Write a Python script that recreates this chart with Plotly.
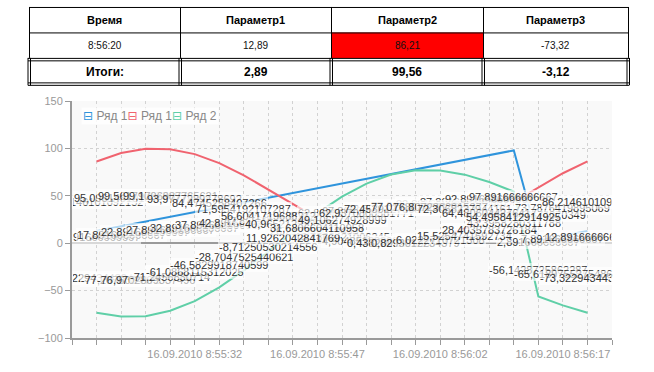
import plotly.graph_objects as go

# ---------------- data ----------------
times = [
    "2010-09-16 08:55:20", "2010-09-16 08:55:23", "2010-09-16 08:55:26",
    "2010-09-16 08:55:29", "2010-09-16 08:55:32", "2010-09-16 08:55:35",
    "2010-09-16 08:55:38", "2010-09-16 08:55:41", "2010-09-16 08:55:44",
    "2010-09-16 08:55:47", "2010-09-16 08:55:50", "2010-09-16 08:55:53",
    "2010-09-16 08:55:56", "2010-09-16 08:55:59", "2010-09-16 08:56:02",
    "2010-09-16 08:56:05", "2010-09-16 08:56:08", "2010-09-16 08:56:11",
    "2010-09-16 08:56:14", "2010-09-16 08:56:17", "2010-09-16 08:56:20",
]

param1 = [12.891666666667, 17.891666666667, 22.891666666667, 27.891666666667,
          32.891666666667, 37.891666666667, 42.891666666667, 47.891666666667,
          52.891666666667, 57.891666666667, 62.891666666667, 67.891666666667,
          72.891666666667, 77.891666666667, 82.891666666667, 87.891666666667,
          92.891666666667, 97.891666666667, 2.891666666667, 7.891666666667,
          12.891666666667]

param2 = [86.2146101092152, 95.0951481010982, 99.5617908770932, 99.1706987765621,
          93.9777289278692, 84.4745258407266, 71.5954192107287, 56.6041719688212,
          40.9652125929651, 26.2123580104931, 13.7863421006245, 4.9048518989018,
          0.4382091229068, 0.8293012234379, 6.0222710721308, 15.5254741592734,
          28.4035783726184, 43.3958280311788, 59.0347874070349, 73.7876419895069,
          86.2146101092152]

param3 = [-73.3229434432433, -77.2076034175, -76.9702899337496, -71.2456830714,
          -61.0868115312025, -46.5829918740599, -28.7047525440621, -8.71250530214556,
          11.9262042841769, 31.6806604110958, 49.106274928999, 62.9370800581771,
          72.4539127963281, 77.017802487146, 76.8072362915377, 72.3068237944161,
          64.4806044276417, 54.4958412914925, -56.1428725862287, -65.6189755275486,
          -73.3229434432433]

series_names = ["Ряд 1", "Ряд 1", "Ряд 2"]
series_colors = ["#2f94dc", "#f0636f", "#5fcfa7"]

tick_vals = ["2010-09-16 08:55:32", "2010-09-16 08:55:47",
             "2010-09-16 08:56:02", "2010-09-16 08:56:17"]
tick_labels = ["16.09.2010 8:55:32", "16.09.2010 8:55:47",
               "16.09.2010 8:56:02", "16.09.2010 8:56:17"]

table_header = ["Время", "Параметр1", "Параметр2", "Параметр3"]
table_row = ["8:56:20", "12,89", "86,21", "-73,32"]
table_totals = ["Итоги:", "2,89", "99,56", "-3,12"]
highlight_col = 2

# ---------------- layout helpers ----------------
W, H = 654, 372
L, R, T, B = 72, 612, 101, 343
x_range = ["2010-09-16 08:55:17", "2010-09-16 08:56:23"]


def px(x):
    return (x - L) / (R - L)


def py(y):
    return (B - y) / (B - T)


def fmt(v):
    return repr(v).replace(".", ",")


CW = {",": 278, ".": 278, "-": 333}


def text_w(s, size=11):
    return sum(CW.get(c, 556) for c in s) / 1000.0 * size


fig = go.Figure()
series = [param1, param2, param3]
for vals, name, col in zip(series, series_names, series_colors):
    fig.add_trace(go.Scatter(x=times, y=vals, mode="lines", name=name,
                             line=dict(color=col, width=2), showlegend=False,
                             hoverinfo="skip"))

annotations = []
shapes = []

# data labels (placed at half value, like the original)
LFONT = dict(family="Liberation Sans, Arial, sans-serif", size=11, color="#333")
LBG = "rgba(255,255,255,0.62)"
n = len(times)
for vals in series:
    for i, (t, v) in enumerate(zip(times, vals)):
        s = fmt(v)
        tw = text_w(s)
        a = dict(x=t, y=v / 2, xref="x", yref="y", text=s, showarrow=False,
                 xanchor="center", yanchor="middle",
                 font=LFONT, bgcolor=LBG, borderpad=1, borderwidth=0)
        if i == 0:
            a.update(x=x_range[0], xanchor="left", align="right",
                     width=max(10, 23 + tw / 2))
        elif i == n - 1:
            a.update(x=x_range[1], xanchor="right", align="left",
                     width=max(10, 22 + tw / 2))
        annotations.append(a)

# legend (inside plot, top-left)
leg_parts = []
for name, col in zip(series_names, series_colors):
    leg_parts.append(f"<span style='color:{col}'>⊟</span> {name}")
annotations.append(dict(x=px(81), y=py(116), xref="paper", yref="paper",
                        xanchor="left", yanchor="middle", showarrow=False,
                        text="".join(leg_parts), bgcolor="rgba(255,255,255,0.85)",
                        font=dict(family="Liberation Sans, DejaVu Sans, sans-serif",
                                  size=12, color="#888")))

# ---------------- table ----------------
cols = [29, 180, 331, 483, 628]
rows = [5, 31, 57, 85]
shapes.append(dict(type="rect", xref="paper", yref="paper",
                   x0=px(cols[highlight_col]), x1=px(cols[highlight_col + 1]),
                   y0=py(rows[1]), y1=py(rows[2]), fillcolor="#ff0000",
                   line=dict(width=0), layer="above"))


def hline(x0, x1, y):
    shapes.append(dict(type="line", xref="paper", yref="paper", x0=px(x0), x1=px(x1),
                       y0=py(y), y1=py(y), line=dict(color="#000", width=1), layer="above"))


def vline(x, y0, y1):
    shapes.append(dict(type="line", xref="paper", yref="paper", x0=px(x), x1=px(x),
                       y0=py(y0), y1=py(y1), line=dict(color="#000", width=1), layer="above"))


hline(cols[0], cols[-1], rows[0] + 0.5)
hline(cols[0], cols[-1], rows[1] + 0.5)
for cx in cols:
    vline(cx + 0.5, rows[0], rows[2])
# totals row with double borders
for yy in (rows[2] + 0.5, rows[2] + 3, rows[3] - 2.5, rows[3]):
    hline(cols[0] - 1, cols[-1] + 1, yy)
for cx in cols:
    vline(cx - 1, rows[2], rows[3])
    vline(cx + 1.5, rows[2], rows[3])

TF = "Liberation Sans, Arial, sans-serif"
for j in range(4):
    cxm = (cols[j] + cols[j + 1]) / 2
    common = dict(xref="paper", yref="paper", showarrow=False,
                  xanchor="center", yanchor="middle")
    annotations.append(dict(x=px(cxm), y=py((rows[0] + rows[1]) / 2 + 0.5),
                            text=f"<b>{table_header[j]}</b>",
                            font=dict(family=TF, size=11, color="#000"), **common))
    annotations.append(dict(x=px(cxm), y=py((rows[1] + rows[2]) / 2 + 0.5),
                            text=table_row[j],
                            font=dict(family=TF, size=10, color="#111"), **common))
    annotations.append(dict(x=px(cxm), y=py((rows[2] + rows[3]) / 2 + 0.5),
                            text=f"<b>{table_totals[j]}</b>",
                            font=dict(family=TF, size=12, color="#000"), **common))

grid = "#d2d2d2"
axc = "#9a9a9a"
fig.update_layout(
    width=W, height=H,
    margin=dict(l=L, r=W - R, t=T, b=H - B, pad=0),
    paper_bgcolor="white",
    plot_bgcolor="#f9f9f9",
    showlegend=False,
    annotations=annotations,
    shapes=shapes,
    xaxis=dict(type="date", range=x_range, tickmode="array", tickvals=tick_vals,
               ticktext=tick_labels, ticks="outside", ticklen=5, tickcolor=axc,
               showline=True, linecolor=axc, linewidth=2,
               showgrid=True, gridcolor=grid, griddash="dot", gridwidth=1,
               tickfont=dict(family=TF, size=11, color="#999"),
               minor=dict(tick0=x_range[0], dtick=3000, ticks="outside", ticklen=5,
                          tickcolor=axc, showgrid=True, gridcolor=grid,
                          griddash="dot", gridwidth=1),
               zeroline=False, fixedrange=True),
    yaxis=dict(range=[-100, 150], tickmode="linear", tick0=0, dtick=50,
               ticks="outside", ticklen=5, tickcolor=axc,
               showline=True, linecolor=axc, linewidth=2,
               showgrid=True, gridcolor=grid, griddash="dot", gridwidth=1,
               zeroline=True, zerolinecolor=axc, zerolinewidth=1.5,
               tickfont=dict(family=TF, size=11, color="#999"), fixedrange=True),
)

fig.write_html("out.html", config={"displayModeBar": False},
               post_script="document.body.style.margin='0';document.body.style.overflow='hidden';")
